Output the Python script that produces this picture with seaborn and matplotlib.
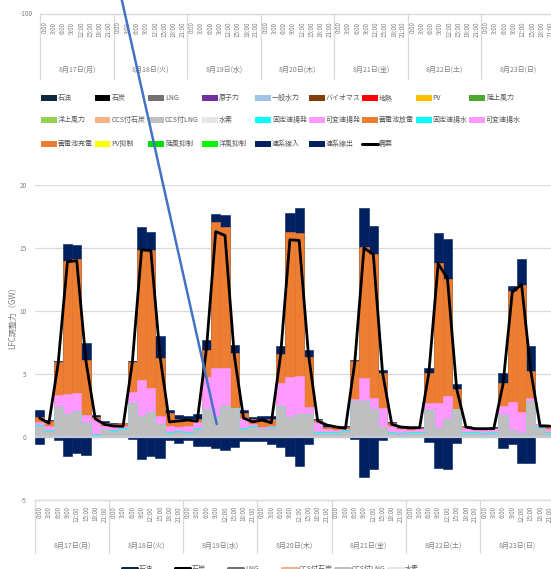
import numpy as np
import matplotlib
matplotlib.use("Agg")
import matplotlib.pyplot as plt
import matplotlib.transforms as mtransforms
from matplotlib.patches import Rectangle
from matplotlib.lines import Line2D
import seaborn as sns

# ---- data -------------------------------------------------------------
days = ["8月17日(月)", "8月18日(火)", "8月19日(水)", "8月20日(木)",
        "8月21日(金)", "8月22日(土)", "8月23日(日)"]
hours = ["0:00", "3:00", "6:00", "9:00", "12:00", "15:00", "18:00", "21:00"]

# LFC capacity by source (GW), 3-hour slots, one row of 8 per day
ccs_lng = [0.87, 0.47, 2.35, 1.85, 2.10, 1.10, 0.15, 0.60,
           0.47, 0.60, 2.66, 1.66, 2.00, 1.00, 0.34, 0.42,
           0.34, 0.60, 2.24, 1.66, 2.45, 2.30, 0.60, 0.79,
           0.60, 0.74, 2.45, 1.58, 1.80, 1.80, 0.34, 0.34,
           0.34, 0.47, 2.85, 2.85, 2.24, 0.80, 0.34, 0.26,
           0.34, 0.34, 2.14, 0.74, 1.40, 2.19, 0.34, 0.34,
           0.26, 0.34, 1.72, 0.55, 0.34, 2.85, 0.75, 0.34]
fixed_pump_gen = [0.08, 0.08, 0.00, 0.00, 0.00, 0.00, 0.08, 0.06,
                  0.08, 0.08, 0.00, 0.00, 0.00, 0.00, 0.08, 0.06,
                  0.08, 0.08, 0.00, 0.00, 0.00, 0.00, 0.08, 0.05,
                  0.06, 0.06, 0.00, 0.00, 0.00, 0.00, 0.08, 0.06,
                  0.06, 0.06, 0.00, 0.00, 0.00, 0.00, 0.08, 0.05,
                  0.05, 0.05, 0.00, 0.00, 0.00, 0.00, 0.05, 0.05,
                  0.05, 0.05, 0.00, 0.00, 0.00, 0.00, 0.05, 0.05]
var_pump_gen = [0.25, 0.32, 0.95, 1.55, 1.40, 0.64, 1.17, 0.21,
                0.27, 0.19, 0.94, 2.83, 1.85, 0.66, 0.45, 0.31,
                0.45, 0.51, 2.51, 3.84, 3.05, 0.00, 0.80, 0.16,
                0.14, 0.10, 1.80, 3.17, 3.03, 0.60, 0.77, 0.20,
                0.15, 0.12, 0.15, 1.85, 0.86, 1.50, 0.45, 0.29,
                0.16, 0.21, 0.58, 1.98, 1.85, 0.00, 0.35, 0.16,
                0.24, 0.21, 0.73, 2.22, 1.64, 0.25, 0.20, 0.21]
battery_dis = [0.38, 0.43, 2.64, 10.60, 10.60, 4.41, 0.20, 0.26,
               0.18, 0.23, 2.36, 10.36, 11.00, 4.62, 1.06, 0.61,
               0.53, 0.21, 2.19, 11.60, 11.20, 4.40, 0.45, 0.40,
               0.47, 0.50, 2.35, 11.55, 11.37, 3.96, 0.16, 0.20,
               0.16, 0.17, 3.00, 10.40, 11.40, 2.80, 0.21, 0.14,
               0.11, 0.14, 2.38, 11.08, 9.31, 1.64, 0.13, 0.11,
               0.11, 0.14, 1.85, 8.79, 10.12, 2.10, 0.06, 0.20]
tie_in = [0.56, 0.05, 0.13, 1.30, 1.15, 1.32, 0.14, 0.14,
          0.13, 0.03, 0.11, 1.80, 1.45, 1.72, 0.21, 0.34,
          0.26, 0.45, 0.79, 0.60, 0.90, 0.60, 0.21, 0.20,
          0.39, 0.26, 0.66, 1.46, 2.00, 0.58, 0.05, 0.15,
          0.09, 0.03, 0.10, 3.10, 2.25, 0.18, 0.12, 0.06,
          0.04, 0.04, 0.40, 2.40, 3.14, 0.39, 0.03, 0.04,
          0.04, 0.04, 0.74, 0.39, 2.00, 2.00, 0.00, 0.12]
tie_out = [-0.55, 0.00, -0.22, -1.50, -1.30, -1.45, 0.00, 0.00,
           0.00, 0.00, -0.13, -1.77, -1.50, -1.64, -0.20, -0.45,
           -0.24, -0.70, -0.70, -0.84, -1.00, -0.80, -0.30, -0.30,
           -0.30, -0.58, -0.77, -1.50, -2.30, -0.58, 0.00, 0.00,
           0.00, 0.00, -0.13, -3.20, -2.50, -0.20, 0.00, 0.00,
           0.00, 0.00, -0.40, -2.43, -2.50, -0.45, 0.00, 0.00,
           0.00, 0.00, -0.84, -0.53, -2.03, -2.03, 0.00, 0.00]
demand = [1.50, 1.10, 5.85, 13.90, 14.00, 6.00, 1.45, 1.00,
          0.87, 0.85, 5.90, 14.85, 14.80, 6.35, 1.20, 1.27,
          1.35, 1.25, 7.00, 16.30, 16.00, 6.50, 1.50, 1.20,
          1.35, 1.13, 6.50, 15.65, 15.60, 6.60, 1.27, 0.95,
          0.80, 0.69, 5.90, 15.00, 14.50, 5.10, 1.00, 0.79,
          0.74, 0.74, 5.10, 13.75, 12.60, 3.80, 0.79, 0.66,
          0.66, 0.66, 4.20, 11.50, 12.10, 5.20, 0.87, 0.87]

# legend entries (row-major, 9 per row)
legend_names = ["石油", "石炭", "LNG", "原子力", "一般水力", "バイオマス", "地熱", "PV", "陸上風力",
                "洋上風力", "CCS付石炭", "CCS付LNG", "水素", "固定速揚発", "可変速揚発", "蓄電池放電", "固定速揚水", "可変速揚水",
                "蓄電池充電", "PV抑制", "陸風抑制", "洋風抑制", "連系線入", "連系線出", "需要"]
legend_colors = ["#0E2841", "#000000", "#767171", "#7030A0", "#9DC3E6", "#843C0C", "#FF0000", "#FFC000", "#4EA72E",
                 "#92D050", "#F4B183", "#BFBFBF", "#E7E6E6", "#00FFFF", "#FF99FF", "#ED7D31", "#00FFFF", "#FF99FF",
                 "#ED7D31", "#FFFF00", "#00E000", "#00FF00", "#002060", "#002060", "#000000"]

# ---- style -------------------------------------------------------------
sns.set_style("white")
plt.rcParams["font.family"] = ["Noto Sans CJK JP", "DejaVu Sans"]
plt.rcParams["axes.unicode_minus"] = False

W, H = 551, 569
fig = plt.figure(figsize=(W / 100, H / 100), dpi=100)


def fx(px):
    return px / W


def fy(py):
    return 1 - py / H


TXT = "#7f7f7f"
LEG = "#595959"
GRID = "#d9d9d9"

n = len(days) * len(hours)
slot = np.arange(n)

ax = fig.add_axes([fx(35), fy(500), fx(554) - fx(35), fy(185) - fy(500)])

# stacked positive components, drawn as cumulative bars from top layer down
stack = [ccs_lng, fixed_pump_gen, var_pump_gen, battery_dis, tie_in]
stack_colors = ["#BFBFBF", "#00FFFF", "#FF99FF", "#ED7D31", "#002060"]
cum = np.cumsum(np.array(stack), axis=0)
for level in range(len(stack) - 1, -1, -1):
    sns.barplot(x=slot, y=cum[level], color=stack_colors[level], width=1.0,
                saturation=1, linewidth=0.4, edgecolor=stack_colors[level],
                errorbar=None, ax=ax)
sns.barplot(x=slot, y=tie_out, color="#002060", width=1.0, saturation=1,
            linewidth=0.4, edgecolor="#002060", errorbar=None, ax=ax)

sns.lineplot(x=slot, y=demand, color="black", linewidth=2.0, ax=ax, zorder=5)

ax.axhline(0, color="#c3c9d4", lw=1.6, zorder=4)
ax.set_xlim(-0.5, n - 0.5)
ax.set_ylim(-5, 20)
ax.set_yticks([-5, 0, 5, 10, 15, 20])
ax.set_xticks([])
ax.set_xlabel("")
ax.set_ylabel("")
ax.yaxis.grid(True, color=GRID, lw=0.9)
ax.set_axisbelow(True)
for s in ["left", "right", "top"]:
    ax.spines[s].set_visible(False)
ax.spines["bottom"].set_color(GRID)
ax.spines["bottom"].set_linewidth(1.0)
ax.tick_params(axis="y", length=0, labelsize=4.6, labelcolor=TXT, pad=6)

fig.text(fx(12.5), fy(316), "LFC調整力（GW）", rotation=90, ha="center", va="center",
         fontsize=5.8, color=TXT)


def category_axis(target, y_line, y_time, y_day, y_sep_end):
    trans = mtransforms.blended_transform_factory(target.transData, fig.transFigure)
    for i in range(n):
        target.text(i, fy(y_time), hours[i % len(hours)], rotation=90, ha="center", va="top",
                    fontsize=4.5, color=TXT, transform=trans, clip_on=False)
    for d, name in enumerate(days):
        target.text(d * len(hours) + (len(hours) - 1) / 2, fy(y_day), name, ha="center",
                    va="center", fontsize=5, color=TXT, transform=trans, clip_on=False)
    for d in range(len(days) + 1):
        x = d * len(hours) - 0.5
        target.add_line(Line2D([x, x], [fy(y_line), fy(y_sep_end)], transform=trans,
                               color=GRID, lw=0.9, clip_on=False))


category_axis(ax, 500, 506, 546, 553)

# axis strip of the chart above
ax_top = fig.add_axes([fx(40), fy(14), fx(555) - fx(40), 0.0005])
ax_top.set_xlim(-0.5, n - 0.5)
ax_top.axis("off")
top_trans = mtransforms.blended_transform_factory(ax_top.transData, fig.transFigure)
ax_top.add_line(Line2D([-0.5, n - 0.5], [fy(14), fy(14)], transform=top_trans,
                       color=GRID, lw=1.0, clip_on=False))
category_axis(ax_top, 14, 21.5, 70, 79)
fig.text(fx(33), fy(13.5), "-100", ha="right", va="center", fontsize=4.6, color=TXT)

# legend
row_y = [98, 120, 144]
for k, (name, color) in enumerate(zip(legend_names, legend_colors)):
    row, col = divmod(k, 9)
    x0 = 41 + 53.5 * col
    yc = row_y[row]
    if name == "需要":
        fig.add_artist(Line2D([fx(x0), fx(x0 + 16)], [fy(yc), fy(yc)], color=color, lw=2.2))
    else:
        fig.add_artist(Rectangle((fx(x0), fy(yc + 2.7)), 16 / W, 5.4 / H, facecolor=color,
                                 edgecolor="none", transform=fig.transFigure))
    fig.text(fx(x0 + 17), fy(yc), name, ha="left", va="center", fontsize=5, color=LEG)

# legend of the chart below (cut by the figure edge)
below = [("石油", "#0E2841", 122), ("石炭", "#000000", 175), ("LNG", "#767171", 228),
         ("CCS付石炭", "#F4B183", 282), ("CCS付LNG", "#BFBFBF", 335), ("水素", "#E7E6E6", 388)]
for name, color, x0 in below:
    fig.add_artist(Line2D([fx(x0), fx(x0 + 15)], [fy(567.5), fy(567.5)], color=color, lw=2.2))
    fig.text(fx(x0 + 17), fy(565), name, ha="left", va="top", fontsize=5, color=LEG)

# stray connector line
fig.add_artist(Line2D([fx(120.7), fx(216.7)], [fy(-5), fy(424)], color="#4472C4", lw=1.8))

fig.savefig("out.png", dpi=100)
